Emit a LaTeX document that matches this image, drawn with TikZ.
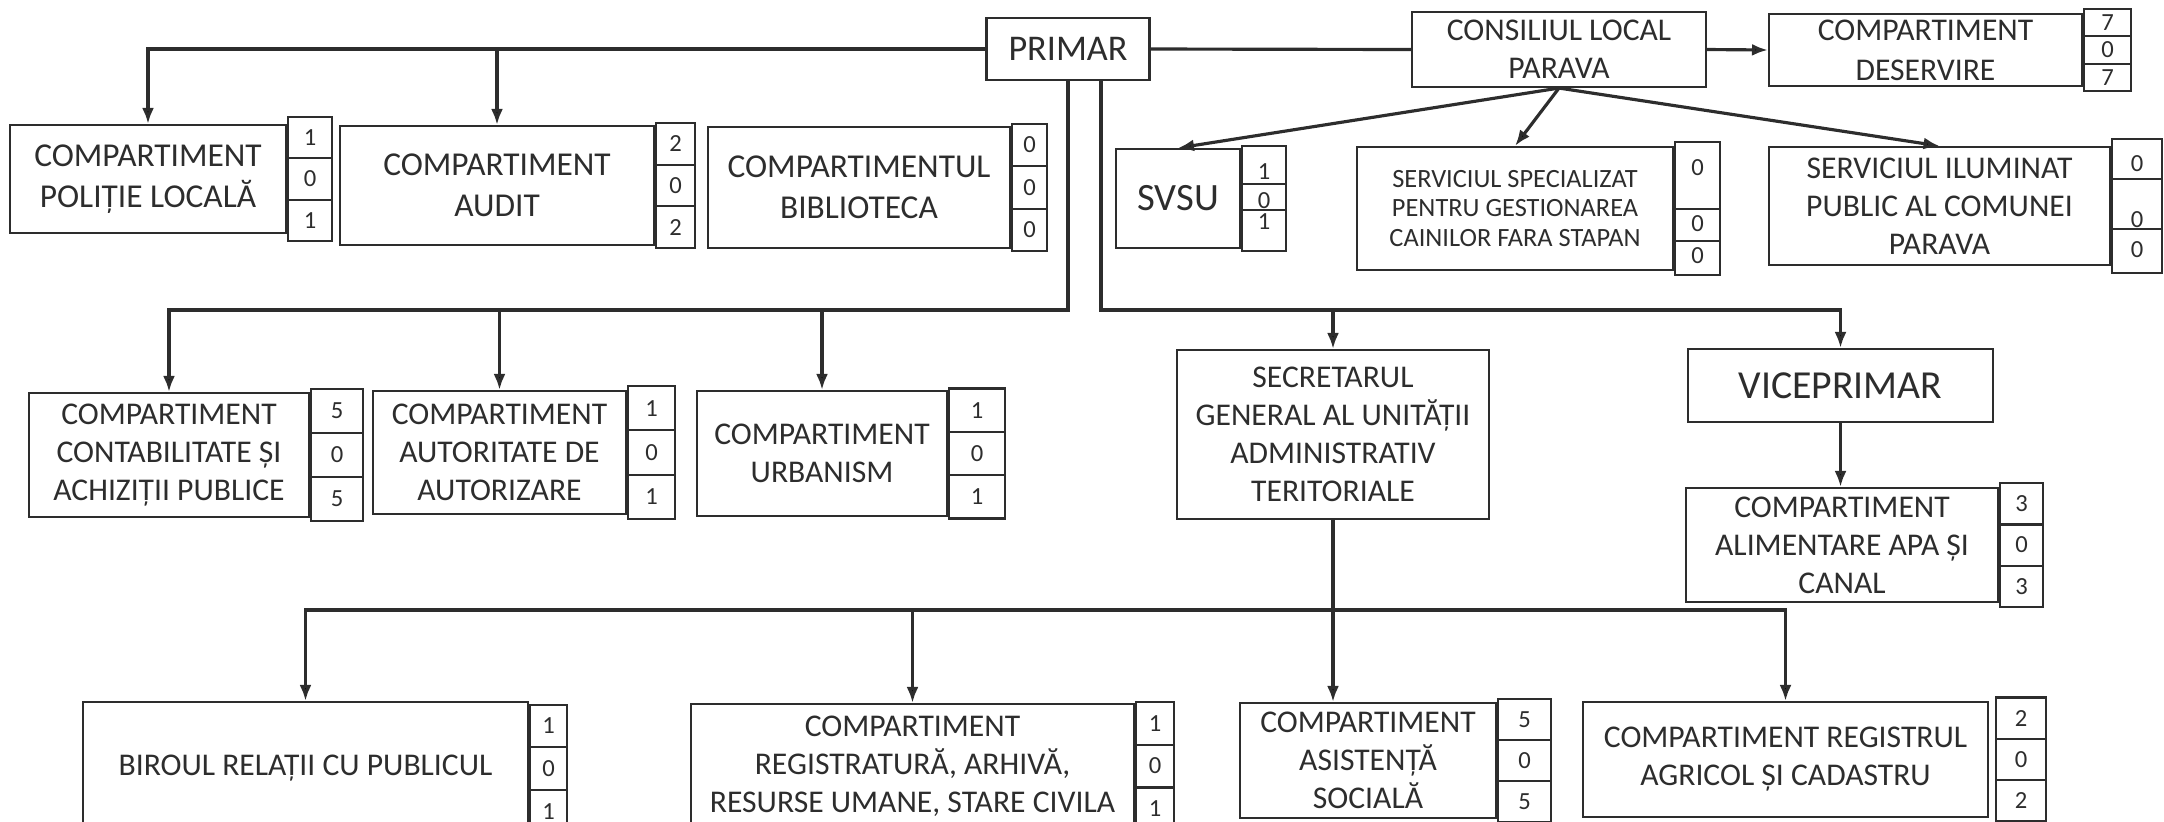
\documentclass[tikz,border=0pt]{standalone}
\usepackage{fontspec}
\setmainfont{Carlito}
\usetikzlibrary{positioning, arrows.meta, shapes.multipart}
\definecolor{ink}{RGB}{45,45,45}

\begin{document}
\begin{tikzpicture}[x=0.1mm, y=-0.1mm,
    unit/.style={draw=ink, line width=0.6pt, text=ink, align=center, inner sep=0pt,
                 font=\fontsize{9}{10.8}\selectfont},
    tally/.style={draw=ink, line width=0.6pt, text=ink, rectangle split, rectangle split parts=3,
                  inner xsep=0pt, font=\fontsize{7}{8}\selectfont},
    link/.style={draw=ink, line width=0.9pt},
    >={Latex[length=1.6mm, width=1.2mm]}]
    \useasboundingbox (0,0) rectangle (2164,821);

    % nodes: primar consiliul deservire
    \node[unit, minimum width=16.3mm, minimum height=6.2mm, font=\fontsize{10.3}{12}\selectfont] (primar) at (1068, 49) {PRIMAR};
    \node[unit, minimum width=29.4mm, minimum height=7.5mm] (cons) at (1559, 49.5) {CONSILIUL LOCAL\\PARAVA};
    \node[unit, minimum width=31.3mm, minimum height=7.2mm, font=\fontsize{9}{11.4}\selectfont] (des) at (1925.5, 50) {COMPARTIMENT\\DESERVIRE};
    \node[tally, minimum width=4.7mm, inner ysep=1.3pt, right=0pt of des] (desc) {7\nodepart{two}0\nodepart{three}7};

    % nodes: pol aud bib
    \node[unit, minimum width=27.6mm, minimum height=10.8mm, font=\fontsize{9.5}{11.8}\selectfont] (pol) at (148, 179) {COMPARTIMENT\\POLIȚIE LOCALĂ};
    \node[tally, minimum width=4.4mm, inner ysep=3.3pt, right=0pt of pol] (polc) {1\nodepart{two}0\nodepart{three}1};
    \node[unit, minimum width=31.4mm, minimum height=11.9mm, font=\fontsize{9.5}{11.8}\selectfont] (aud) at (497, 185.5) {COMPARTIMENT\\AUDIT};
    \node[tally, minimum width=3.9mm, inner ysep=3.35pt, right=0pt of aud] (audc) {2\nodepart{two}0\nodepart{three}2};
    \node[unit, minimum width=30.2mm, minimum height=12.1mm, font=\fontsize{9.5}{11.8}\selectfont] (bib) at (859, 187.5) {COMPARTIMENTUL\\BIBLIOTECA};
    \node[tally, minimum width=3.5mm, inner ysep=3.45pt, right=0pt of bib] (bibc) {0\nodepart{two}0\nodepart{three}0};

    % nodes: svsu gest ilum (uneven cells)
    \node[unit, minimum width=12.4mm, minimum height=9.9mm, font=\fontsize{11}{13}\selectfont] (svsu) at (1178, 198.5) {SVSU};
    \node[tally, minimum width=4.4mm, inner ysep=0pt, right=0pt of svsu] (svsuc)
        {\rule[-0.3mm]{0pt}{3.6mm}1\nodepart{two}\rule[-0.1mm]{0pt}{2.4mm}0\nodepart{three}\rule[-2.1mm]{0pt}{3.9mm}1};
    \node[unit, minimum width=31.6mm, minimum height=12.3mm, font=\fontsize{7.5}{8.3}\selectfont] (gest) at (1515, 208.5) {SERVICIUL SPECIALIZAT\\PENTRU GESTIONAREA\\CAINILOR FARA STAPAN};
    \node[tally, minimum width=4.5mm, inner ysep=0pt, right=0pt of gest] (gestc)
        {\rule[-3.2mm]{0pt}{6.5mm}0\nodepart{two}\rule[-0.9mm]{0pt}{3mm}0\nodepart{three}\rule[-1.1mm]{0pt}{3.2mm}0};
    \node[unit, minimum width=34.1mm, minimum height=11.8mm] (ilum) at (1939.5, 206) {SERVICIUL ILUMINAT\\PUBLIC AL COMUNEI\\PARAVA};
    \node[tally, minimum width=5mm, inner ysep=0pt, right=0pt of ilum] (ilumc)
        {\rule[-0.7mm]{0pt}{3.8mm}0\nodepart{two}\rule{0pt}{4.7mm}0\nodepart{three}\rule[-1.4mm]{0pt}{4.2mm}0};

    % nodes: cont aut urb
    \node[unit, minimum width=28mm, minimum height=12.4mm] (cont) at (169, 455) {COMPARTIMENT\\CONTABILITATE ȘI\\ACHIZIȚII PUBLICE};
    \node[tally, minimum width=5.2mm, inner ysep=3.7pt, right=0pt of cont] (contc) {5\nodepart{two}0\nodepart{three}5};
    \node[unit, minimum width=25.3mm, minimum height=12.3mm] (aut) at (499.5, 452.5) {COMPARTIMENT\\AUTORITATE DE\\AUTORIZARE};
    \node[tally, minimum width=4.7mm, inner ysep=3.7pt, right=0pt of aut] (autc) {1\nodepart{two}0\nodepart{three}1};
    \node[unit, minimum width=25mm, minimum height=12.5mm] (urb) at (822, 453.5) {COMPARTIMENT\\URBANISM};
    \node[tally, minimum width=5.6mm, inner ysep=3.6pt, right=0pt of urb] (urbc) {1\nodepart{two}0\nodepart{three}1};

    % nodes: sec vice alim
    \node[unit, minimum width=31.2mm, minimum height=16.9mm] (sec) at (1333, 434.5) {SECRETARUL\\GENERAL AL UNITĂȚII\\ADMINISTRATIV\\TERITORIALE};
    \node[unit, minimum width=30.5mm, minimum height=7.3mm, font=\fontsize{11.3}{13}\selectfont] (vice) at (1840.5, 385.5) {VICEPRIMAR};
    \node[unit, minimum width=31.2mm, minimum height=11.4mm] (alim) at (1842, 545) {COMPARTIMENT\\ALIMENTARE APA ȘI\\CANAL};
    \node[tally, minimum width=4.3mm, inner ysep=3.25pt, right=0pt of alim] (alimc) {3\nodepart{two}0\nodepart{three}3};

    % nodes: bir reg asis agr
    \node[unit, minimum width=44.5mm, minimum height=13.3mm] (bir) at (305.5, 768.5) {BIROUL RELAȚII CU PUBLICUL};
    \node[tally, minimum width=3.7mm, inner ysep=3.5pt, right=0pt of bir] (birc) {1\nodepart{two}0\nodepart{three}1};
    \node[unit, minimum width=44.3mm, minimum height=12.4mm] (reg) at (912.5, 766) {COMPARTIMENT\\REGISTRATURĂ, ARHIVĂ,\\RESURSE UMANE, STARE CIVILA};
    \node[tally, minimum width=3.8mm, inner ysep=3.5pt, right=0pt of reg] (regc) {1\nodepart{two}0\nodepart{three}1};
    \node[unit, minimum width=25.6mm, minimum height=11.5mm] (asis) at (1368, 760.5) {COMPARTIMENT\\ASISTENȚĂ\\SOCIALĂ};
    \node[tally, minimum width=5.3mm, inner ysep=3.25pt, right=0pt of asis] (asisc) {5\nodepart{two}0\nodepart{three}5};
    \node[unit, minimum width=40.5mm, minimum height=11.5mm] (agr) at (1785.5, 759.5) {COMPARTIMENT REGISTRUL\\AGRICOL ȘI CADASTRU};
    \node[tally, minimum width=5mm, inner ysep=3.3pt, right=0.6mm of agr] (agrc) {2\nodepart{two}0\nodepart{three}2};

    % edges: primar to the top row
    \draw[link, ->] (primar.west) -| (pol.north);
    \draw[link, ->] (primar.west) -| (aud.north);
    % edges: primar - consiliul, consiliul to its services
    \draw[link] (primar.east) -- (cons.west);
    \draw[link, ->] (cons.east) -- (des.west);
    \draw[link, ->] (cons.south) -- (svsu.north);
    \draw[link, ->] (cons.south) -- (gest.north);
    \draw[link, ->] (cons.south) -- (ilum.north);

    % edges: primar to the second row
    \coordinate (lbranch) at (1068, 310);
    \coordinate (rbranch) at (1101, 310);
    \draw[link, ->] (primar.south -| lbranch) -- (lbranch) -| (cont.north);
    \draw[link, ->] (lbranch) -| (aut.north);
    \draw[link, ->] (lbranch) -| (urb.north);
    \draw[link, ->] (primar.south -| rbranch) -- (rbranch) -| (sec.north);
    \draw[link, ->] (rbranch) -| (vice.north);
    \draw[link, ->] (vice.south) -- (vice.south |- alim.north);

    % edges: secretarul to the bottom row
    \coordinate (bus) at (1332, 610);
    \draw[link, ->] (sec.south) -- (sec.south |- asis.north);
    \draw[link, ->] (bus) -| (bir.north);
    \draw[link, ->] (bus) -| (reg.north);
    \draw[link, ->] (bus) -| (agr.north);
\end{tikzpicture}
\end{document}
